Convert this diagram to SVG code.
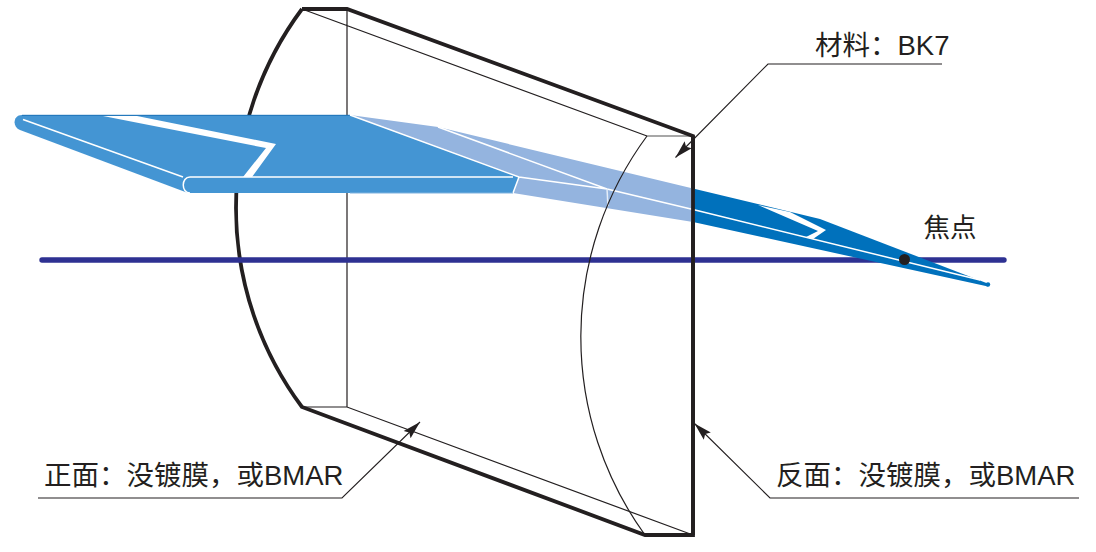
<svg xmlns="http://www.w3.org/2000/svg" width="1096" height="552" viewBox="0 0 1096 552">
<style>
.thick{fill:none;stroke:#231f20;stroke-width:3.8;stroke-linejoin:miter}
.thin{fill:none;stroke:#231f20;stroke-width:1.2}
.lead{fill:none;stroke:#231f20;stroke-width:1.1}
.wl{fill:none;stroke:#fff;stroke-width:1.5}
.wl2{fill:none;stroke:#e4edf8;stroke-width:1.5}
.lbl{font-family:"Liberation Sans","Noto Sans CJK SC",sans-serif;font-size:27.5px;fill:#231f20}
</style>
<defs>
<marker id="arr" markerUnits="userSpaceOnUse" markerWidth="20" markerHeight="14" refX="18" refY="6" orient="auto"><path d="M0,1 L18,6 L0,11 L3,6 Z" fill="#231f20"/></marker>
</defs>
<g id="lens">
<path class="thin" d="M347,9V407M302,9L647,136M302,407H347L693,535"/>
<path d="M647,136H693" fill="none" stroke="#8a8a8a" stroke-width="1.6"/>
<path class="thick" d="M302,9A333,333 0 0 0 302,407L645,535H693V136L347,9H302"/>
</g>
<g id="axis"><path d="M42,260H1004" fill="none" stroke="#2e3192" stroke-width="5.4" stroke-linecap="round"/></g>
<g id="beam">
<path d="M350,115L438,127L693,188.500V222L513,193L519,177Z" fill="#94b4df"/>
<path d="M693,188.500L820,219L989,284L988,286.500L693,222Z" fill="#0071bc"/>
<circle cx="988" cy="284.500" r="2.200" fill="#0071bc"/>
<path d="M22,115H350L519,177L513,193H188L20,130C12,127 13,115 22,115Z" fill="#4495d3"/>
<path d="M22,115.300H350" fill="none" stroke="#1d72b8" stroke-width="1"/>
<path d="M103,116H137L276,144L252,177H243L266,148Z" fill="#fff"/>
<path class="wl" d="M23,119.500L183,177"/>
<path class="wl" d="M513,177H190C181,177 181,193 190,193"/>
<path class="wl" d="M350,115L519,177L607,189M438,127L607,189L693,209.500L980,280M519,177L513,193"/>
<path class="wl2" d="M607,189L608,206"/>
<path d="M758,205L790,212L826,230L813,239L806,237L818,231Z" fill="#fff"/>
<path d="M513,193H350" fill="none" stroke="#7fb2df" stroke-width="1"/>
</g>
<g id="lens-over">
<path class="thin" d="M647,136A338,338 0 0 0 645,535"/>
<path d="M693,136V535" fill="none" stroke="#231f20" stroke-width="3.800"/>
</g>
<g id="focus">
<circle cx="904.500" cy="259.500" r="5.500" fill="#231f20"/>
<text class="lbl" style="font-size:26.500px" x="923.500" y="237">焦点</text>
</g>
<g id="connectors">
<path class="lead" marker-end="url(#arr)" d="M942,64H768L675.500,157.500"/>
<path class="lead" marker-end="url(#arr)" d="M38,498H342L420,422"/>
<path class="lead" marker-end="url(#arr)" d="M1079,498H770L694.500,423.500"/>
</g>
<g id="label-material"><text class="lbl" x="815" y="55">材料：BK7</text></g>
<g id="label-front"><text class="lbl" x="44" y="485">正面：没镀膜，或BMAR</text></g>
<g id="label-back"><text class="lbl" x="776" y="485">反面：没镀膜，或BMAR</text></g>
</svg>
